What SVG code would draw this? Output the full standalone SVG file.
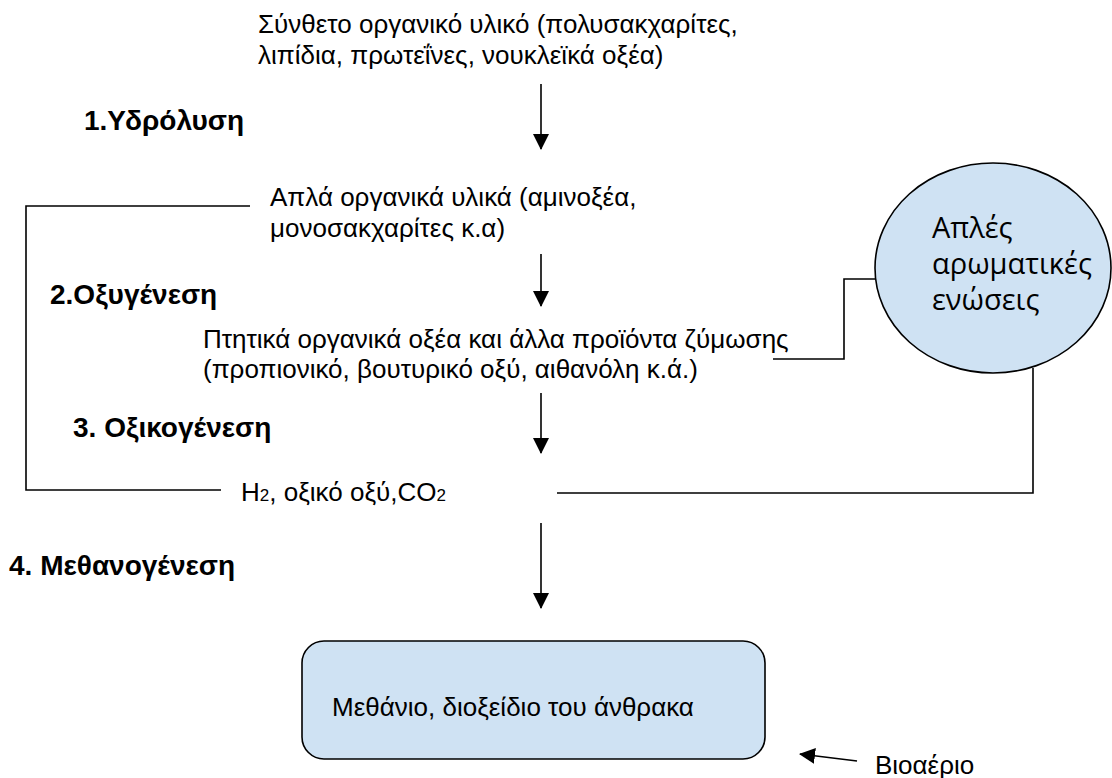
<svg xmlns="http://www.w3.org/2000/svg" width="1112" height="778" viewBox="0 0 1112 778">
<defs>
<style>
.t{font-family:"Liberation Sans",Arial,sans-serif;font-size:26px;fill:#000}
.b{font-family:"Liberation Sans",Arial,sans-serif;font-size:28px;font-weight:bold;fill:#000}
.c{font-family:"Open Sans","Noto Sans",sans-serif;font-size:29px;fill:#000}
.ln{fill:none;stroke:#000;stroke-width:1.6}
.shape{fill:#cfe2f3;stroke:#000;stroke-width:1.6}
</style>
<marker id="ah" viewBox="0 0 16 16" refX="15" refY="8" markerWidth="16" markerHeight="16" markerUnits="userSpaceOnUse" orient="auto">
<path d="M0,0 L16,8 L0,16 Z" fill="#000"/>
</marker>
</defs>
<rect width="1112" height="778" fill="#fff"/>
<g id="connectors">
<line class="ln" x1="541" y1="84" x2="541" y2="149" marker-end="url(#ah)"/>
<line class="ln" x1="541" y1="254" x2="541" y2="306" marker-end="url(#ah)"/>
<line class="ln" x1="541" y1="393" x2="541" y2="453" marker-end="url(#ah)"/>
<line class="ln" x1="541" y1="523" x2="541" y2="608" marker-end="url(#ah)"/>
<polyline class="ln" points="250,206 26,206 26,490 221,490"/>
<polyline class="ln" points="773,359 844,359 844,279 915,279"/>
<polyline class="ln" points="1033,368 1033,493 557,493"/>
<line class="ln" x1="857" y1="761" x2="800" y2="754" marker-end="url(#ah)"/>
</g>
<g id="n-complex">
<text class="t" x="258" y="33">Σύνθετο οργανικό υλικό (πολυσακχαρίτες,</text>
<text class="t" x="258" y="64">λιπίδια, πρωτεΐνες, νουκλεϊκά οξέα)</text>
</g>
<g id="s1"><text class="b" x="84" y="130">1.Υδρόλυση</text></g>
<g id="n-simple">
<text class="t" x="270" y="206">Απλά οργανικά υλικά (αμινοξέα,</text>
<text class="t" x="270" y="237">μονοσακχαρίτες κ.α)</text>
</g>
<g id="s2"><text class="b" x="50" y="304">2.Οξυγένεση</text></g>
<g id="n-volatile">
<text class="t" x="203" y="348">Πτητικά οργανικά οξέα και άλλα προϊόντα ζύμωσης</text>
<text class="t" x="203" y="378">(προπιονικό, βουτυρικό οξύ, αιθανόλη κ.ά.)</text>
</g>
<g id="n-aromatic">
<ellipse class="shape" cx="993" cy="268" rx="118" ry="105"/>
<text class="c" x="932" y="238">Απλές</text>
<text class="c" x="932" y="274">αρωματικές</text>
<text class="c" x="932" y="310">ενώσεις</text>
</g>
<g id="s3"><text class="b" x="73" y="437">3. Οξικογένεση</text></g>
<g id="n-h2">
<text class="t" x="241" y="501">H<tspan font-size="17">2</tspan>, οξικό οξύ,CO<tspan font-size="17">2</tspan></text>
</g>
<g id="s4"><text class="b" x="9" y="575">4. Μεθανογένεση</text></g>
<g id="n-methane">
<rect class="shape" x="302" y="641" width="463" height="118" rx="22"/>
<text class="t" x="332" y="716" font-size="24">Μεθάνιο, διοξείδιο του άνθρακα</text>
</g>
<g id="n-biogas"><text class="t" x="875" y="774">Βιοαέριο</text></g>
</svg>
